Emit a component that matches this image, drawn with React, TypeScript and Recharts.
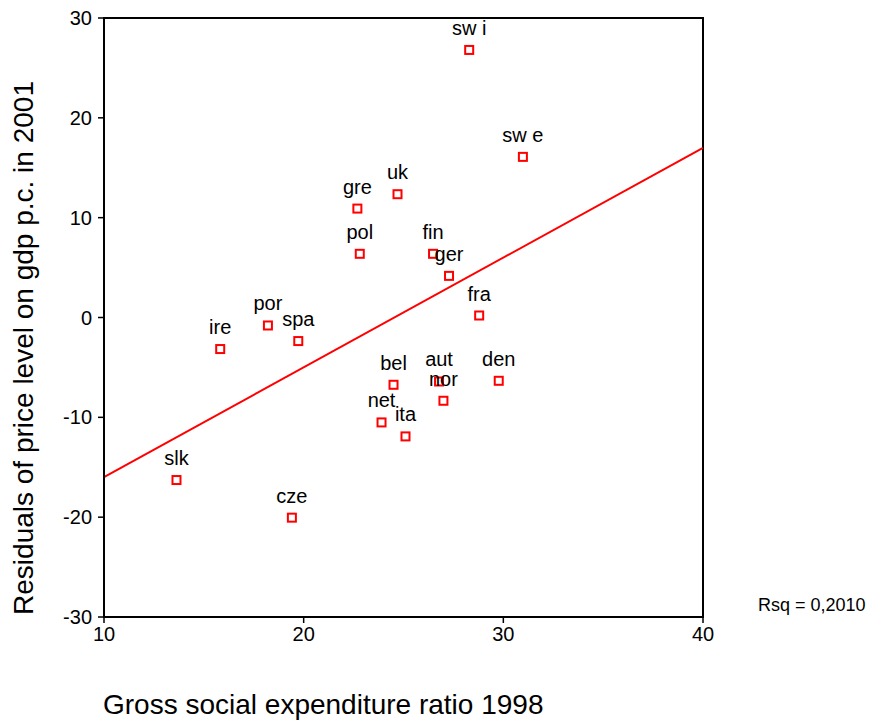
import React from "react";
import {
  ScatterChart,
  Scatter,
  XAxis,
  YAxis,
  ReferenceLine,
  ReferenceArea,
  Label,
} from "recharts";

// country codes as printed next to each marker
const countries = [
  "sw i", "sw e", "uk", "gre", "pol", "fin", "ger", "fra", "por", "spa",
  "ire", "bel", "aut", "den", "nor", "net", "ita", "slk", "cze",
];
// gross social expenditure ratio 1998
const socialExp = [
  28.29, 30.98, 24.7, 22.69, 22.81, 26.48, 27.28, 28.79, 18.21, 19.73,
  15.82, 24.5, 26.78, 29.77, 27.0, 23.9, 25.1, 13.63, 19.41,
];
// residuals of price level on gdp p.c. in 2001
const residuals = [
  26.8, 16.09, 12.35, 10.91, 6.38, 6.38, 4.17, 0.2, -0.8, -2.36,
  -3.16, -6.74, -6.41, -6.34, -8.34, -10.51, -11.91, -16.28, -20.05,
];

const xTicks = [10, 20, 30, 40];
const yTicks = [-30, -20, -10, 0, 10, 20, 30];

// fitted line endpoints (x=10 and x=40)
const fitX = [10, 40];
const fitY = [-16.0, 17.0];

const data = countries.map((name, i) => ({
  name,
  x: socialExp[i],
  y: residuals[i],
}));

const FONT = "'Liberation Sans', Arial, sans-serif";

const Marker = (props: any) => {
  const { cx, cy, payload } = props;
  return (
    <g>
      <rect
        x={cx - 4}
        y={cy - 4}
        width={8}
        height={8}
        fill="none"
        stroke="#ff0000"
        strokeWidth={2}
      />
      <text
        x={cx}
        y={cy - 15}
        textAnchor="middle"
        fontSize={20}
        fontFamily={FONT}
        fill="#000"
      >
        {payload.name}
      </text>
    </g>
  );
};

export default function App() {
  return (
    <div style={{ position: "absolute", left: 0, top: 0, width: 888, height: 724, background: "#fff" }}>
      <ScatterChart
        width={888}
        height={724}
        margin={{ top: 18, right: 185, bottom: 0, left: 0 }}
      >
        <XAxis
          type="number"
          dataKey="x"
          domain={[10, 40]}
          ticks={xTicks}
          allowDataOverflow
          height={107}
          tickSize={6}
          tickMargin={4}
          axisLine={{ stroke: "#000", strokeWidth: 2 }}
          tickLine={{ stroke: "#000", strokeWidth: 1.5 }}
          tick={{ fill: "#000", fontSize: 20, fontFamily: FONT }}
        >
          <Label
            content={() => (
              <g>
                <text x={103} y={714} fontSize={28} fontFamily={FONT} fill="#000">
                  Gross social expenditure ratio 1998
                </text>
                <text x={758} y={611} fontSize={18} fontFamily={FONT} fill="#000">
                  Rsq = 0,2010
                </text>
              </g>
            )}
          />
        </XAxis>
        <YAxis
          type="number"
          dataKey="y"
          domain={[-30, 30]}
          ticks={yTicks}
          allowDataOverflow
          width={104}
          tickSize={6}
          tickMargin={6}
          axisLine={{ stroke: "#000", strokeWidth: 2 }}
          tickLine={{ stroke: "#000", strokeWidth: 1.5 }}
          tick={{ fill: "#000", fontSize: 20, fontFamily: FONT }}
        >
          <Label
            content={() => (
              <text
                x={33}
                y={348}
                transform="rotate(-90 33 348)"
                textAnchor="middle"
                fontSize={28}
                fontFamily={FONT}
                fill="#000"
              >
                Residuals of price level on gdp p.c. in 2001
              </text>
            )}
          />
        </YAxis>
        <ReferenceArea
          x1={10}
          x2={40}
          y1={-30}
          y2={30}
          fill="none"
          stroke="#000"
          strokeWidth={2}
          ifOverflow="visible"
        />
        <ReferenceLine
          segment={[
            { x: fitX[0], y: fitY[0] },
            { x: fitX[1], y: fitY[1] },
          ]}
          stroke="#ff0000"
          strokeWidth={2}
        />
        <Scatter data={data} shape={Marker} isAnimationActive={false} />
      </ScatterChart>
    </div>
  );
}
